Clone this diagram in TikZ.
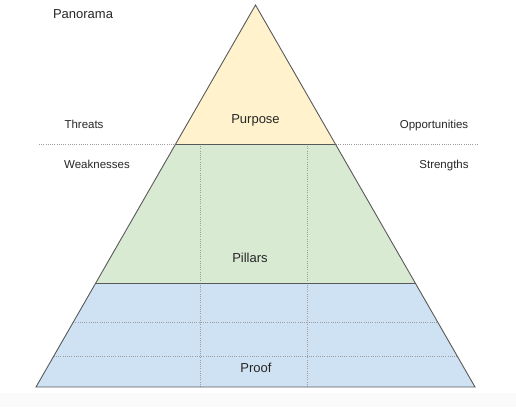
\documentclass[tikz,border=0pt]{standalone}
\usepackage{fontspec}
\setmainfont{Liberation Sans}
\usetikzlibrary{calc}
\definecolor{purposefill}{HTML}{FFF2CC}
\definecolor{pillarfill}{HTML}{D9EAD3}
\definecolor{prooffill}{HTML}{CFE2F3}
\definecolor{edgegray}{HTML}{595959}
\definecolor{gridgray}{HTML}{9E9E9E}
\definecolor{textgray}{HTML}{262626}
\begin{document}
\begin{tikzpicture}[x=1pt,y=-1pt,
	layer/.style={draw=edgegray,line width=0.9pt,line join=miter},
	gridline/.style={draw=gridgray,line width=0.7pt,dash pattern=on 1pt off 1.2pt},
	bigtext/.style={font=\fontsize{13}{15}\selectfont,text=textgray,inner sep=0pt,anchor=base},
	smalltext/.style={font=\fontsize{11.5}{13}\selectfont,text=textgray,inner sep=0pt,anchor=base}]
	
	\useasboundingbox (0,0) rectangle (516,407);
	\fill[black!2] (0,393) rectangle (516,407);
	
	% corners of the pyramid
	\coordinate (apex) at (255.5,5);
	\coordinate (bl) at (36,387);
	\coordinate (br) at (475,387);
	
	\coordinate (pl) at ($(apex)!0.364!(bl)$);
	\coordinate (pr) at ($(apex)!0.364!(br)$);
	\coordinate (ql) at ($(apex)!0.7285!(bl)$);
	\coordinate (qr) at ($(apex)!0.7285!(br)$);
	\coordinate (rl) at ($(apex)!0.8306!(bl)$);
	\coordinate (rr) at ($(apex)!0.8306!(br)$);
	\coordinate (sl) at ($(apex)!0.9188!(bl)$);
	\coordinate (sr) at ($(apex)!0.9188!(br)$);
	
	% layers
	\fill[prooffill] (ql) -- (qr) -- (br) -- (bl) -- cycle;
	\fill[pillarfill] (pl) -- (pr) -- (qr) -- (ql) -- cycle;
	\fill[purposefill] (apex) -- (pr) -- (pl) -- cycle;
	
	% swot line
	\coordinate (swotl) at (39,144);
	\coordinate (swotr) at (478.7,144);
	\draw[gridline] (swotl) -- (swotr);
	
	% grid inside
	\draw[gridline] (rl) -- (rr);
	\draw[gridline] (sl) -- (sr);
	\coordinate (c1t) at (200.3,144);
	\coordinate (c1b) at (200.3,387);
	\coordinate (c2t) at (307.3,144);
	\coordinate (c2b) at (307.3,387);
	\draw[gridline] (c1t) -- (c1b);
	\draw[gridline] (c2t) -- (c2b);
	
	\draw[layer] (pl) -- (pr);
	\draw[layer] (ql) -- (qr);
	\draw[layer] (apex) -- (br) -- (bl) -- cycle;
	
	\node [bigtext] (panorama) at (83,18.3) {Panorama};
	\node [smalltext] (threats) at (84,128) {Threats};
	\node [smalltext] (weak) at (97,168) {Weaknesses};
	\node [smalltext] (opp) at (434,128) {Opportunities};
	\node [smalltext] (strong) at (444,168) {Strengths};
	\node [bigtext] (purpose) at (255.5,123.3) {Purpose};
	\node [bigtext] (pillars) at (250,262.7) {Pillars};
	\node [bigtext] (proof) at (256,372.7) {Proof};
\end{tikzpicture}
\end{document}
